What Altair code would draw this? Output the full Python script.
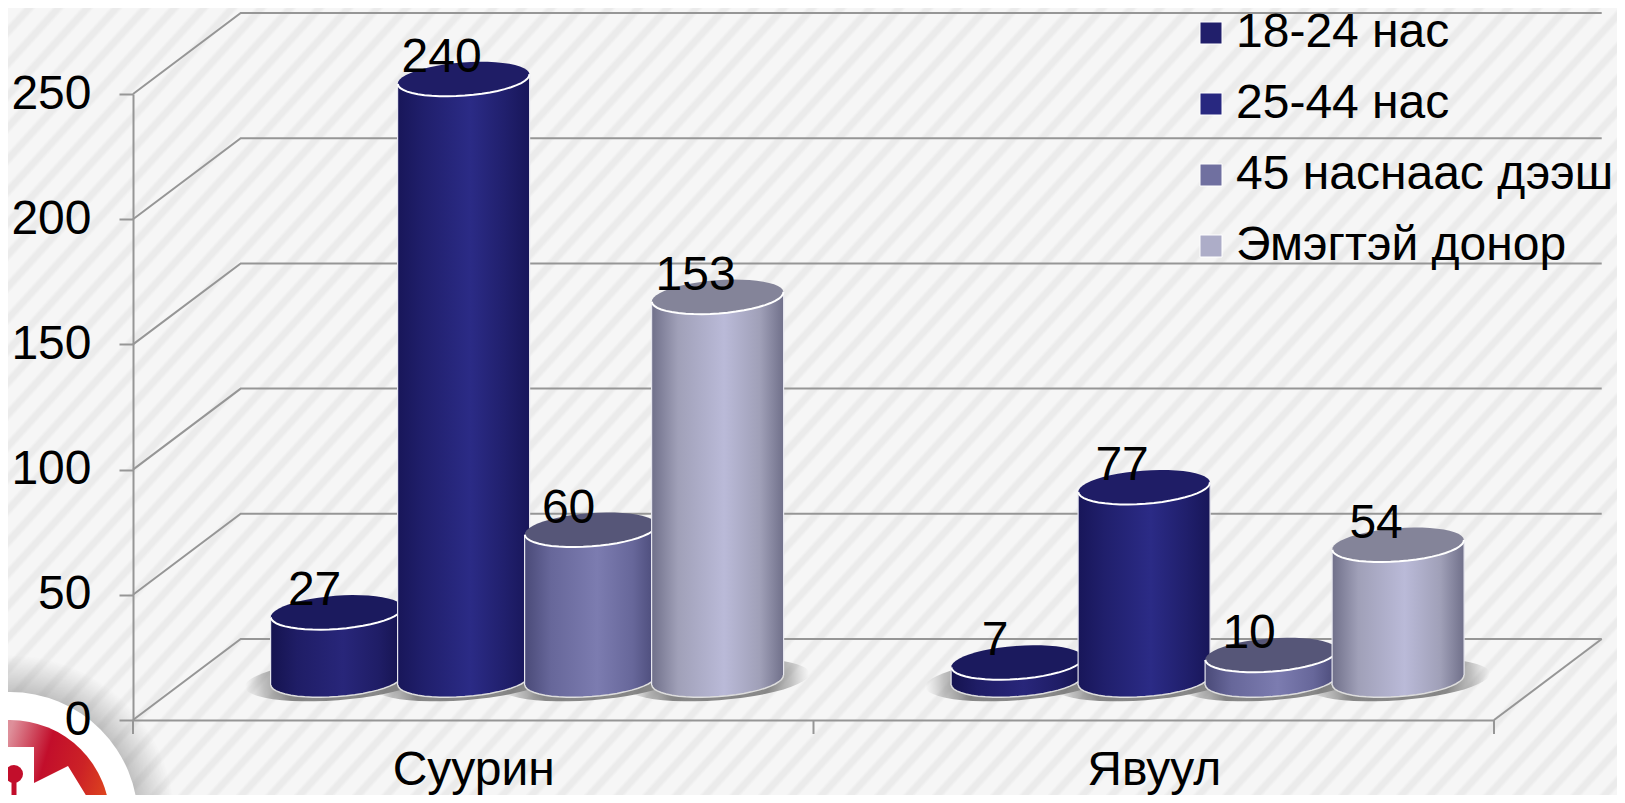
import math
import altair as alt
import pandas as pd

# ---------- values ----------
categories = ["Суурин", "Явуул"]
series = ["18-24 нас", "25-44 нас", "45 наснаас дээш", "Эмэгтэй донор"]
v_18_24 = [27, 7]
v_25_44 = [240, 77]
v_45_up = [60, 10]
v_female = [153, 54]
y_ticks = [0, 50, 100, 150, 200, 250]
x_ticks = [0, 1, 2]

legend_colors = ["#211f6b", "#282880", "#7070a0", "#adadc8"]
top_colors = ["#1b1a5e", "#1f1d66", "#565678", "#848499"]
edge_colors = ["#15134f", "#181659", "#4a4a78", "#70708a"]
side_colors = ["#1f1d66", "#201f6c", "#67679a", "#a0a0b8"]
mid_colors = ["#28267a", "#2b2b86", "#7c7cb0", "#babad8"]

FONT = "Liberation Sans"
PAD_L, PAD_T, PLOT_W, PLOT_H = 125, 86, 1361, 626
TOTAL_W, TOTAL_H = 1609, 787
GREY = "#969696"

xs = alt.Scale(domain=[0, 2], nice=False, zero=False)
ys = alt.Scale(domain=[0, 250], nice=False, zero=False)
cat_w = PLOT_W / 2.0
unit_y = PLOT_H / 250.0
DX = 107.7 / cat_w      # depth of the box in x units
DY = 81.0 / unit_y      # depth of the box in y units
HALF = 66.0 / cat_w     # half a cylinder
STEP = 127.0 / cat_w    # spacing of the cylinders
MID_DY = 40.0 / unit_y  # cylinders stand half way down the floor
TILT = 5.0 / unit_y

x_axis = alt.Axis(values=[0.5, 1.5], tickSize=0, domainColor=GREY, domainWidth=2, grid=False,
                  labelFont=FONT, labelFontSize=48, labelColor="#000000", labelPadding=26,
                  labelExpr=f"datum.value < 1 ? '{categories[0]}' : '{categories[1]}'", zindex=1)
y_axis = alt.Axis(values=y_ticks, tickSize=14, tickWidth=2, tickColor=GREY, domainColor=GREY,
                  domainWidth=2, grid=False, labelFont=FONT, labelFontSize=48,
                  labelColor="#000000", labelPadding=28, zindex=1)


def X(f="x"):
    return alt.X(f"{f}:Q", scale=xs, axis=x_axis, title=None)


def Y(f="y"):
    return alt.Y(f"{f}:Q", scale=ys, axis=y_axis, title=None)


def px(v):
    return alt.value(v - 8 - PAD_L)


def py(v):
    return alt.value(v - 8 - PAD_T)


def ellipse(half=False, a=66.0, b=16.6, deg=4.3):
    th = math.radians(deg)
    pts = []
    n = 24 if half else 48
    for i in range(n + 1):
        t = math.pi * i / 24
        ex, ey = math.cos(t), (b / a) * math.sin(t)
        pts.append((ex * math.cos(th) + ey * math.sin(th), -ex * math.sin(th) + ey * math.cos(th)))
    d = "M" + " L".join(f"{p:.4f},{q:.4f}" for p, q in pts)
    return d if half else d + " Z"


# ---------- background stripes ----------
SLOPE, PERIOD, PHASE = 1.1, 29.0, 7.6
umax = TOTAL_W + TOTAL_H / SLOPE
p, q = TOTAL_W / umax, (TOTAL_H / SLOPE) / umax
nn = p * p + q * q
shift = 8 + 8 / SLOPE
BG_A, BG_B = "#f6f6f6", "#ebebeb"
stops = [alt.GradientStop(offset=0, color=BG_A)]
k = 0
while True:
    c = PHASE + PERIOD * k - shift
    k += 1
    if c - 7 < 0:
        continue
    if c + 7 > umax:
        break
    for off, col in ((-7, BG_A), (-3, BG_B), (3, BG_B), (7, BG_A)):
        stops.append(alt.GradientStop(offset=(c + off) / umax, color=col))
stops.append(alt.GradientStop(offset=1, color=BG_A))
bg_fill = alt.LinearGradient(gradient="linear", stops=stops, x1=0, y1=0, x2=p / nn, y2=q / nn)

one = pd.DataFrame({"a": [0]})
background = alt.Chart(one).mark_rect(fill=bg_fill).encode(
    x=alt.value(-PAD_L), x2=alt.value(TOTAL_W - PAD_L), y=alt.value(-PAD_T), y2=alt.value(TOTAL_H - PAD_T)
)

# ---------- legend carrier + axes ----------
legend_df = pd.DataFrame({"series": series, "x": [0.0] * 4, "y": [0.0] * 4})
legend_layer = alt.Chart(legend_df).mark_square(size=1, opacity=0).encode(
    x=X("x"),
    y=Y("y"),
    color=alt.Color("series:N", scale=alt.Scale(domain=series, range=legend_colors), sort=None,
                    legend=alt.Legend(orient="none", legendX=1054, legendY=-85, title=None, symbolType="square",
                                      symbolSize=484, labelFont=FONT, labelFontSize=48, labelColor="#000000",
                                      labelOffset=1, rowPadding=23, symbolStrokeColor="#ffffff",
                                      symbolStrokeWidth=1, symbolOpacity=1, labelLimit=700, padding=0)),
)

# ---------- box walls ----------
wall_rows = []
for t in y_ticks:
    wall_rows += [
        {"g": t, "o": 0, "x": 0.0, "y": float(t)},
        {"g": t, "o": 1, "x": DX, "y": t + DY},
        {"g": t, "o": 2, "x": 2 + DX, "y": t + DY},
    ]
wall_rows += [{"g": -1, "o": 0, "x": 2.0, "y": 0.0}, {"g": -1, "o": 1, "x": 2 + DX, "y": DY}]
walls = alt.Chart(pd.DataFrame(wall_rows)).mark_line(color=GREY, strokeWidth=2).encode(
    x=X(), y=Y(), detail="g:N", order="o:Q"
)
tick_df = pd.DataFrame({"x": x_ticks, "y": [0] * len(x_ticks)})
x_tick_marks = alt.Chart(tick_df).mark_rule(color=GREY, strokeWidth=2).encode(
    x=X(), y=Y(), y2=alt.value(PLOT_H + 14)
)

# ---------- logo ----------
grad_red = alt.LinearGradient(gradient="linear", x1=0, y1=0.2, x2=1, y2=0.5, stops=[
    alt.GradientStop(offset=0.42, color="#de8f9a"), alt.GradientStop(offset=0.62, color="#c20e2b"),
    alt.GradientStop(offset=0.8, color="#cc2226"), alt.GradientStop(offset=1, color="#e4501c")])
glow = alt.RadialGradient(gradient="radial", stops=[
    alt.GradientStop(offset=0.7, color="rgba(120,120,120,0.55)"),
    alt.GradientStop(offset=1, color="rgba(120,120,120,0)")])
logo_shape = "M0,-0.56 L0.34,-0.56 L0.34,-0.2 L0.68,-0.37 L0.87,-0.06 L0.87,0.1 L0,0.1 Z"
logo = [
    alt.Chart(one).mark_point(shape="circle", filled=True, fill=glow, opacity=1, size=(2 * 165) ** 2, strokeWidth=0)
    .encode(x=px(10), y=py(820)),
    alt.Chart(one).mark_point(shape="circle", filled=True, fill="#ffffff", opacity=1, size=(2 * 128) ** 2, strokeWidth=0)
    .encode(x=px(10), y=py(820)),
    alt.Chart(one).mark_point(shape="circle", filled=True, fill=grad_red, opacity=1, size=(2 * 100) ** 2, strokeWidth=0)
    .encode(x=px(10), y=py(820)),
    alt.Chart(one).mark_point(shape=logo_shape, filled=True, fill="#ffffff", opacity=1, size=(2 * 100) ** 2, strokeWidth=0)
    .encode(x=px(0), y=py(803)),
    alt.Chart(one).mark_rule(color="#c20e2b", strokeWidth=5).encode(x=px(14), x2=px(14), y=py(774), y2=py(803)),
    alt.Chart(one).mark_point(shape="circle", filled=True, fill="#c20e2b", opacity=1, size=18 ** 2, strokeWidth=0)
    .encode(x=px(14), y=py(774)),
]

# ---------- cylinders ----------
value_lists = [v_18_24, v_25_44, v_45_up, v_female]
shadow_fill = alt.RadialGradient(gradient="radial", stops=[
    alt.GradientStop(offset=0.55, color="rgba(90,90,90,0.7)"),
    alt.GradientStop(offset=0.8, color="rgba(110,110,110,0.4)"),
    alt.GradientStop(offset=1, color="rgba(130,130,130,0)")])
shadows, cylinders, label_rows = [], [], []
for ci in range(len(categories)):
    for si in range(len(series)):
        v = value_lists[si][ci]
        cx = ci + 0.5 + DX / 2 + (si - 1.5) * STEP
        one_c = pd.DataFrame({"x": [cx], "y": [v + MID_DY], "b": [MID_DY]})
        body_fill = alt.LinearGradient(gradient="linear", x1=0, y1=0, x2=1, y2=0, stops=[
            alt.GradientStop(offset=0, color=edge_colors[si]),
            alt.GradientStop(offset=0.2, color=side_colors[si]),
            alt.GradientStop(offset=0.55, color=mid_colors[si]),
            alt.GradientStop(offset=0.82, color=side_colors[si]),
            alt.GradientStop(offset=1, color=edge_colors[si])])
        shadows.append(alt.Chart(one_c).mark_point(shape=ellipse(a=1.0, b=0.22), filled=True, fill=shadow_fill,
                                                   opacity=1, size=(2 * 92) ** 2, strokeWidth=0)
                       .encode(x=X(), y=Y("b")))
        base = alt.Chart(one_c).mark_point(shape=ellipse(), filled=True, fill=body_fill, opacity=1, size=132 ** 2,
                                           stroke="#dddddd", strokeWidth=1.5).encode(x=X(), y=Y("b"))
        body_df = pd.DataFrame({
            "x": [cx - HALF, cx + HALF],
            "y": [v + MID_DY - TILT, v + MID_DY + TILT],
            "y2": [MID_DY - TILT, MID_DY + TILT],
        })
        body = alt.Chart(body_df).mark_area(fill=body_fill, opacity=1, interpolate="linear").encode(
            x=X(), y=Y(), y2="y2:Q")
        edges = alt.Chart(body_df).mark_rule(color="#e6e6ee", strokeWidth=1.2).encode(x=X(), y=Y(), y2="y2:Q")
        top = alt.Chart(one_c).mark_point(shape=ellipse(), filled=True, fill=top_colors[si], opacity=1,
                                          size=132 ** 2, strokeWidth=0).encode(x=X(), y=Y())
        rim = alt.Chart(one_c).mark_point(shape=ellipse(half=True), filled=False, stroke="#ffffff", opacity=1,
                                          size=132 ** 2, strokeWidth=2).encode(x=X(), y=Y())
        cylinders += [base, body, edges, top, rim]
        label_rows.append({"x": cx, "y": v + MID_DY, "v": str(v)})

labels = alt.Chart(pd.DataFrame(label_rows)).mark_text(
    font=FONT, fontSize=48, color="#000000", dx=-22, dy=-7, baseline="alphabetic", align="center"
).encode(x=X(), y=Y(), text="v:N")

chart = alt.layer(
    background, *logo, legend_layer, walls, x_tick_marks, *shadows, *cylinders, labels
).properties(
    width=PLOT_W,
    height=PLOT_H,
    padding={"left": PAD_L, "top": PAD_T, "right": TOTAL_W - PAD_L - PLOT_W, "bottom": TOTAL_H - PAD_T - PLOT_H},
    autosize=alt.AutoSizeParams(type="none"),
).configure_view(stroke=None)

chart.save("out.html", embed_options={"renderer": "svg", "actions": False})
